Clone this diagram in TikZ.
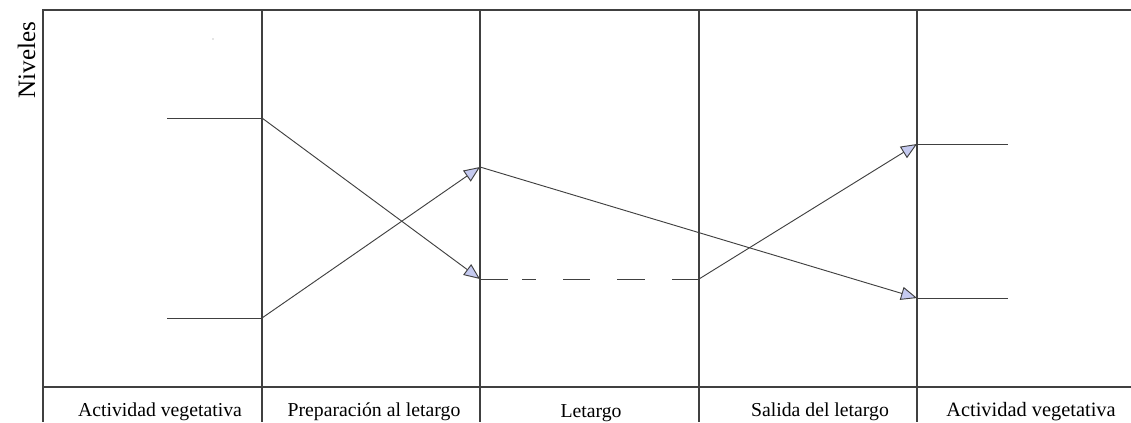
\documentclass[tikz,border=0pt]{standalone}
\usepackage{fontspec}
\setmainfont{Liberation Serif}
\usetikzlibrary{arrows.meta}
\definecolor{ln}{HTML}{404040}
\definecolor{tipfill}{HTML}{C5CAF0}
\tikzset{
  frame/.style={draw=ln, line width=0.8pt},
  trace/.style={draw=ln, line width=0.7pt},
  arr/.style={trace, -{Triangle[length=12pt,width=10pt,fill=tipfill]}},
  lab/.style={anchor=base, inner sep=0pt, font=\fontsize{14.8pt}{16pt}\selectfont, text=black},
}
\begin{document}
\begin{tikzpicture}[x=0.75pt,y=-0.75pt]
\useasboundingbox (0,0) rectangle (1131,422);
% frame
\draw[frame] (1131,10) -- (43,10) -- (43,422);
\draw[frame] (43,387) -- (1131,387);
\foreach \xx in {262,480,699,917} \draw[frame] (\xx,10) -- (\xx,422);
% axis label
\node[rotate=90, anchor=base, inner sep=0pt, font=\fontsize{18.8pt}{20pt}\selectfont] (niv) at (35,60) {Niveles};
% stray dot
\fill[ln!60] (213,39) circle (0.5pt);
% points
\coordinate (a0) at (167,118);
\coordinate (a1) at (262,118);
\coordinate (a2) at (480,279);
\coordinate (a3) at (699,279);
\coordinate (a4) at (917,144);
\coordinate (a5) at (1008,144);
\coordinate (b0) at (167,318);
\coordinate (b1) at (262,318);
\coordinate (b2) at (480,167);
\coordinate (b3) at (917,298);
\coordinate (b4) at (1008,298);
% traces
\draw[trace] (a0) -- (a1);
\draw[arr] (a1) -- (a2);
\draw[trace, dash pattern=on 21pt off 10.5pt on 10.5pt off 20.25pt on 20.25pt off 20.25pt on 21pt off 20.25pt on 20.25pt off 15pt] (a2) -- (a3);
\draw[arr] (a3) -- (a4);
\draw[trace] (a4) -- (a5);
\draw[trace] (b0) -- (b1);
\draw[arr] (b1) -- (b2);
\draw[arr] (b2) -- (b3);
\draw[trace] (b3) -- (b4);
% labels
\node[lab] (l1) at (160,416) {Actividad vegetativa};
\node[lab] (l2) at (374,416) {Preparación al letargo};
\node[lab] (l3) at (591,417) {Letargo};
\node[lab] (l4) at (820,416) {Salida del letargo};
\node[lab, font=\fontsize{15.3pt}{16pt}\selectfont] (l5) at (1031,416) {Actividad vegetativa};
\end{tikzpicture}
\end{document}
